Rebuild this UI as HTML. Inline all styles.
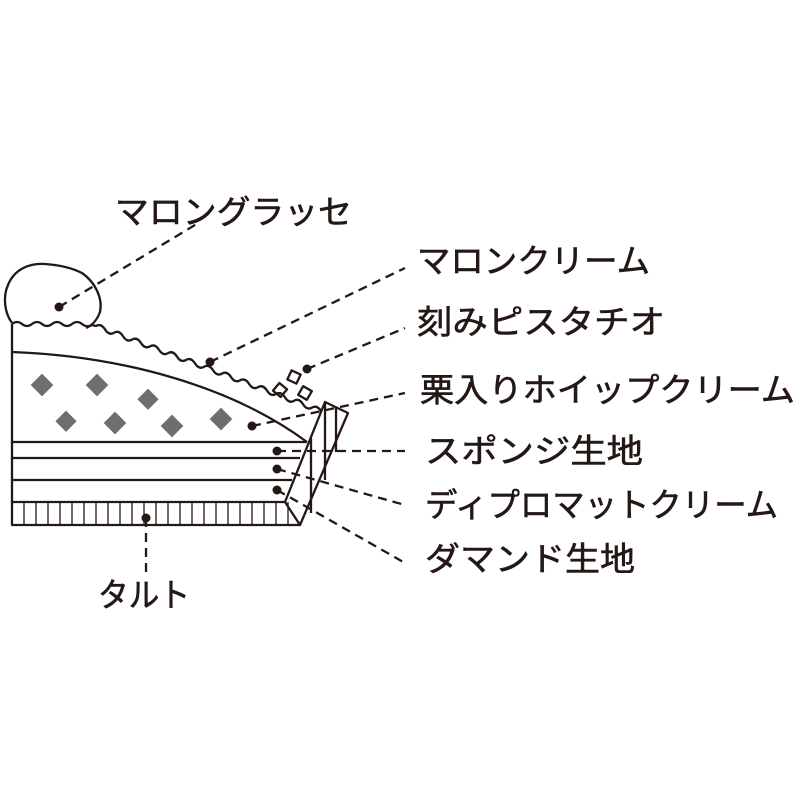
<!DOCTYPE html>
<html><head><meta charset="utf-8"><style>body{margin:0;background:#fff}</style></head><body>
<svg width="800" height="800" viewBox="0 0 800 800" xmlns="http://www.w3.org/2000/svg">
<rect width="800" height="800" fill="#fff"/>
<g fill="none" stroke="#231815" stroke-width="2.3" stroke-linejoin="round">
<!-- cloud -->
<path d="M12,323 C4,312 3,296 8,285 C14,270 28,263 45,264 C60,265 72,268 82,273 C95,282 103,298 100,312 C97,320 93,325 86,328"/>
<!-- wavy top -->
<path d="M12,324 q5,-4 10,0 t10,0 t10,0 t10,0 t10,0 t10,0 t10,0 t10,1 l4,1 q5,-3 9,3.4 t9,3.4 t9,3.4 t9,3.4 t9,3.4 t9,3.4 t9,3.4 t9,3.4 t9,3.4 t9,3.4 t9,3.4 t9,3.4 t9,3.4 t9,3.4 t9,3.4 t9,3.4 t9,3.4 t9,3.4 t9,3.4 t9,3.4 t9,3.4 t9,3.4 t9,3.4 t9,3.4 t9,3.4"/>
<!-- walls -->
<path d="M12,324 V525 H300"/>
<path d="M12,352 C120,356 230,385 307,442"/>
<path d="M12,442 H307 M12,458 H300 M12,480 H292 M12,502 H285"/>
<polygon points="285,502 325,402 348,413 300,525"/>
<path d="M311,438 V513 M325,402 V480 M336,408 V452"/>
<!-- tart verticals -->
<path d="M24,502V525 M36,502V525 M48,502V525 M60,502V525 M72,502V525 M84,502V525 M96,502V525 M108,502V525 M120,502V525 M132,502V525 M144,502V525 M156,502V525 M168,502V525 M180,502V525 M192,502V525 M204,502V525 M216,502V525 M228,502V525 M240,502V525 M252,502V525 M264,502V525 M276,502V525 M288,502V525" stroke-width="1.3"/>
<!-- pistachio squares -->
<rect x="275" y="385" width="10" height="10" transform="rotate(40 280 390)"/>
<rect x="289" y="372" width="10" height="10" transform="rotate(25 294 377)"/>
<rect x="300" y="388" width="10" height="10" transform="rotate(30 305 393)"/>
</g>
<g fill="#6e6e6e">
<rect x="34" y="377" width="16" height="16" transform="rotate(45 42 385)"/>
<rect x="89" y="377" width="16" height="16" transform="rotate(45 97 385)"/>
<rect x="140" y="392" width="15" height="15" transform="rotate(45 148 400)"/>
<rect x="58" y="414" width="15" height="15" transform="rotate(45 66 422)"/>
<rect x="107" y="415" width="16" height="16" transform="rotate(45 115 423)"/>
<rect x="164" y="418" width="16" height="16" transform="rotate(45 172 426)"/>
<rect x="213" y="411" width="16" height="16" transform="rotate(45 221 419)"/>
</g>
<g stroke="#231815" stroke-width="2.3" stroke-dasharray="9,6" fill="none">
<line x1="59" y1="307" x2="200" y2="222"/>
<line x1="210" y1="362" x2="405" y2="268"/>
<line x1="307" y1="369" x2="405" y2="328"/>
<line x1="252" y1="426" x2="405" y2="393"/>
<line x1="277" y1="451" x2="405" y2="451"/>
<line x1="277" y1="469" x2="405" y2="505"/>
<line x1="277" y1="490" x2="405" y2="563"/>
<line x1="146" y1="518" x2="146" y2="572"/>
</g>
<g fill="#231815">
<circle cx="59" cy="307" r="4.5"/><circle cx="210" cy="362" r="4.5"/><circle cx="307" cy="369" r="4.5"/>
<circle cx="252" cy="426" r="4.5"/><circle cx="277" cy="451" r="4.5"/><circle cx="277" cy="469" r="4.5"/>
<circle cx="277" cy="490" r="4.5"/><circle cx="146" cy="518" r="4.5"/>
</g>
<g fill="#231815" stroke="#231815" stroke-width="0.6" font-family="'Liberation Sans','Noto Sans CJK JP',sans-serif" font-size="33" dominant-baseline="central">
<text x="115" y="212" textLength="237" lengthAdjust="spacingAndGlyphs">マロングラッセ</text>
<text x="417" y="261" textLength="233" lengthAdjust="spacingAndGlyphs">マロンクリーム</text>
<text x="417" y="322" textLength="248" lengthAdjust="spacingAndGlyphs">刻みピスタチオ</text>
<text x="420" y="390" textLength="375" lengthAdjust="spacingAndGlyphs">栗入りホイップクリーム</text>
<text x="425" y="451" textLength="218" lengthAdjust="spacingAndGlyphs">スポンジ生地</text>
<text x="425" y="505" textLength="353" lengthAdjust="spacingAndGlyphs">ディプロマットクリーム</text>
<text x="425" y="559" textLength="210" lengthAdjust="spacingAndGlyphs">ダマンド生地</text>
<text x="98" y="595" textLength="92" lengthAdjust="spacingAndGlyphs">タルト</text>
</g>
</svg>
</body></html>
